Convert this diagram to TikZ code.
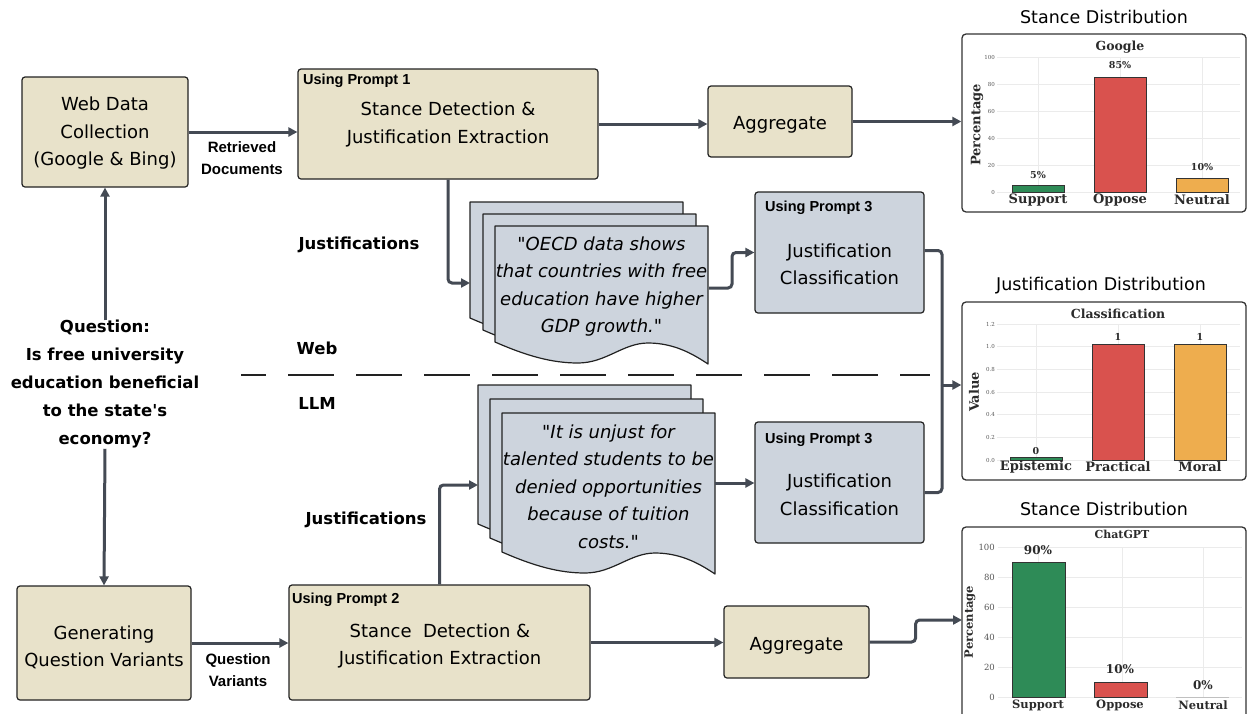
\documentclass[tikz,border=0pt]{standalone}
\usepackage{fontspec}
\setmainfont{DejaVu Sans}[Ligatures=TeXOff]
\newfontfamily\tagfont{Liberation Sans}
\newfontfamily\plotfont{DejaVu Serif}
\usetikzlibrary{arrows.meta,calc}

\definecolor{beige}{HTML}{E8E2CA}
\definecolor{slate}{HTML}{CDD4DD}
\definecolor{wire}{HTML}{444A54}
\definecolor{edge}{HTML}{222222}
\definecolor{frame}{HTML}{333333}
\definecolor{barG}{HTML}{2E8B57}
\definecolor{barR}{HTML}{D9524E}
\definecolor{barO}{HTML}{EEAD4E}
\definecolor{gridc}{HTML}{EBEBEB}
\definecolor{tickc}{HTML}{555555}
\definecolor{valc}{HTML}{2B2B2B}

\tikzset{
  box/.style={draw=edge, line width=1.2pt, rounded corners=3pt, inner sep=0pt},
  beigebox/.style={box, fill=beige},
  slatebox/.style={box, fill=slate},
  main/.style={font=\fontsize{18}{27.5}\selectfont, align=center, inner sep=0pt, yshift=-2.5pt},
  doctext/.style={font=\itshape\fontsize{18}{27.5}\selectfont, align=center, inner sep=0pt, yshift=-2pt},
  tag/.style={font=\tagfont\bfseries\fontsize{14.5}{17}\selectfont, anchor=west, inner sep=0pt},
  flowlabel/.style={font=\tagfont\bfseries\fontsize{15}{22}\selectfont, align=center, inner sep=0pt},
  biglabel/.style={font=\bfseries\fontsize{16.5}{28}\selectfont, align=center, inner sep=0pt, yshift=-1.5pt},
  wireline/.style={draw=wire, line width=3pt, rounded corners=4pt},
  arr/.style={wireline, -{Triangle[length=9pt,width=9pt]}},
  docst/.style={draw=edge, line width=1.2pt, fill=slate, line join=round},
  divider/.style={draw=edge, line width=2.6pt, dash pattern=on 46pt off 22pt, dash phase=21pt},
  chartframe/.style={draw=frame, line width=1.3pt, rounded corners=4pt, fill=white, inner sep=0pt},
  heading/.style={font=\fontsize{17.5}{20}\selectfont, inner sep=0pt},
  gline/.style={draw=gridc, line width=0.6pt},
  bar/.style={draw=frame, line width=0.8pt},
  ticklbl/.style={font=\plotfont\fontsize{5.5}{6}\selectfont, text=tickc, anchor=east, inner sep=0pt},
  ticklblB/.style={font=\plotfont\fontsize{8.5}{9}\selectfont, text=tickc, anchor=east, inner sep=0pt},
  ptitle/.style={font=\plotfont\bfseries\fontsize{12.5}{14}\selectfont, text=valc, inner sep=0pt},
  paxis/.style={font=\plotfont\bfseries\fontsize{13}{14}\selectfont, text=valc, inner sep=0pt, rotate=90},
  pcat/.style={font=\plotfont\bfseries\fontsize{13}{14}\selectfont, text=valc, inner sep=0pt},
  pval/.style={font=\plotfont\bfseries\fontsize{9.5}{11}\selectfont, text=valc, inner sep=0pt},
}

% one page of a document stack: left x, top y, height of the left edge
\newcommand\docpage[3]{%
  \draw[docst] ({#1},{#2+#3})
    .. controls ({#1+32},{#2+#3+14}) and ({#1+57},{#2+#3+21}) .. ({#1+83},{#2+#3+21})
    .. controls ({#1+111},{#2+#3+21}) and ({#1+128},{#2+#3+1}) .. ({#1+153},{#2+#3+1})
    .. controls ({#1+179},{#2+#3+1}) and ({#1+198},{#2+#3+12}) .. ({#1+213},{#2+#3+22})
    -- ({#1+213},{#2}) -- ({#1},{#2}) -- cycle;}

\begin{document}
\begin{tikzpicture}[x=1pt,y=-1pt]
\useasboundingbox[fill=white] (0,0) rectangle (1249,713);

% ---------- left column ----------
\node[beigebox, minimum width=166pt, minimum height=110pt] (web) at (105,132) {};
\node[main] (webtxt) at (105,131) {Web Data\\Collection\\(Google \& Bing)};

\node[biglabel] (q) at (105,383) {Question:\\Is free university\\education beneficial\\to the state's\\economy?};

\node[beigebox, minimum width=174pt, minimum height=114pt] (gen) at (104,643) {};
\node[main] (gentxt) at (104,645) {Generating\\Question Variants};

% ---------- web branch ----------
\node[beigebox, minimum width=300pt, minimum height=110pt] (s1) at (448,124) {};
\node[tag] (s1tag) at (303,81) {Using Prompt 1};
\node[main] (s1txt) at (448,122) {Stance Detection \&\\Justification Extraction};

\node[beigebox, minimum width=144pt, minimum height=71pt] (a1) at (780,121.5) {};
\node[main] (a1txt) at (780,122) {Aggregate};

\node[flowlabel] (retr) at (242,158) {Retrieved\\Documents};
\node[biglabel] (just1) at (359,243) {Justifications};

\docpage{470}{202}{116}
\docpage{483}{214}{116}
\docpage{495}{226}{116}
\node[doctext] (d1txt) at (601.5,284.5) {"OECD data shows\\that countries with free\\education have higher\\GDP growth."};

\node[slatebox, minimum width=169pt, minimum height=121pt] (j1) at (839.5,252.5) {};
\node[tag] (j1tag) at (765,208) {Using Prompt 3};
\node[main] (j1txt) at (839.5,262) {Justification\\Classification};

% ---------- divider ----------
\coordinate (dl) at (241,375);
\coordinate (dr) at (930,375);
\draw[divider] (dl) -- (dr);
\node[biglabel] (webl) at (317,347) {Web};
\node[biglabel] (llml) at (317,402) {LLM};

% ---------- LLM branch ----------
\node[beigebox, minimum width=301pt, minimum height=115pt] (s2) at (439.5,642.5) {};
\node[tag] (s2tag) at (292,600) {Using Prompt 2};
\node[main] (s2txt) at (440,643.5) {Stance\ \ Detection \&\\Justification Extraction};

\node[beigebox, minimum width=145pt, minimum height=72pt] (a2) at (796.5,642) {};
\node[main] (a2txt) at (796.5,643) {Aggregate};

\node[flowlabel] (qv) at (238,670.5) {Question\\Variants};
\node[biglabel] (just2) at (366,518) {Justifications};

\docpage{478}{385}{139}
\docpage{490}{399}{139}
\docpage{502}{413}{139}
\node[doctext] (d2txt) at (608.5,484.5) {"It is unjust for\\talented students to be\\denied opportunities\\because of tuition\\costs."};

\node[slatebox, minimum width=169pt, minimum height=121pt] (j2) at (839.5,482.5) {};
\node[tag] (j2tag) at (765,440) {Using Prompt 3};
\node[main] (j2txt) at (839.5,492.5) {Justification\\Classification};

% ---------- chart frames ----------
\node[chartframe, minimum width=284pt, minimum height=178pt] (ch1) at (1104,123) {};
\node[chartframe, minimum width=284pt, minimum height=178pt] (ch2) at (1104,391) {};
\node[chartframe, minimum width=284pt, minimum height=194pt] (ch3) at (1104,624) {};
\node[heading] (h1) at (1104,17) {Stance Distribution};
\node[heading] (h2) at (1101,286) {Justification Distribution};
\node[heading] (h3) at (1104,509) {Stance Distribution};

% ---------- connectors ----------
\coordinate (d1in) at (470,283);
\coordinate (d1out) at (709,288);
\coordinate (d2in) at (478,485);
\coordinate (d2out) at (715,483);
\coordinate (mrg) at (942,385);
\coordinate (c3in) at (962,620);

\draw[arr] (q.north) -- (web.south);
\draw[arr] (q.south) -- (gen.north);
\draw[arr] (web.east) -- (web.east -| s1.west);
\draw[arr] (s1.east) -- (s1.east -| a1.west);
\draw[arr] (a1.east) -- (a1.east -| ch1.west);
\draw[arr] (s1.south) |- (d1in);
\draw[arr] (d1out) -- ++(23,0) |- (j1.west);
\draw[wireline] ([yshift=2pt]j1.east) -| (mrg);
\draw[wireline] ([yshift=-10pt]j2.east) -| (mrg);
\draw[arr] (mrg) -- (mrg -| ch2.west);
\draw[arr] (gen.east) -- (gen.east -| s2.west);
\draw[arr] (s2.east) -- (s2.east -| a2.west);
\draw[arr] (a2.east) -- ++(46,0) |- (c3in);
\draw[arr] (s2.north) |- (d2in);
\draw[arr] (d2out) -- (d2out -| j2.west);

% ---------- chart 1: Google stance ----------
\foreach \v [count=\k] in {0,20,40,60,80,100} {
  \draw[gline] (997,{192-1.35*\v}) -- (1240,{192-1.35*\v});
  \node[ticklbl] (g1t\k) at (995,{192-1.35*\v}) {\v};
}
\foreach \cx in {1038,1120,1202} \draw[gline] (\cx,57) -- (\cx,192);
\draw[bar, fill=barG] (1012,192) rectangle (1064,{192-1.35*5});
\draw[bar, fill=barR] (1094,192) rectangle (1146,{192-1.35*85});
\draw[bar, fill=barO] (1176,192) rectangle (1228,{192-1.35*10});
\node[pval] (g1v1) at (1038,175) {5\%};
\node[pval] (g1v2) at (1120,65) {85\%};
\node[pval] (g1v3) at (1202,167) {10\%};
\node[pcat] (g1c1) at (1038,200) {Support};
\node[pcat] (g1c2) at (1120,200) {Oppose};
\node[pcat] (g1c3) at (1202,200) {Neutral};
\node[ptitle] (g1title) at (1120,47) {Google};
\node[paxis] (g1axis) at (977,125) {Percentage};

% ---------- chart 2: justification classes ----------
\foreach \v/\lab [count=\k] in {0/0.0,0.2/0.2,0.4/0.4,0.6/0.6,0.8/0.8,1/1.0,1.2/1.2} {
  \draw[gline] (997,{460-113.3*\v}) -- (1240,{460-113.3*\v});
  \node[ticklbl] (g2t\k) at (995,{460-113.3*\v}) {\lab};
}
\foreach \cx in {1036,1118,1200} \draw[gline] (\cx,324) -- (\cx,460);
\draw[bar, fill=barG] (1010,460) rectangle (1062,457.7);
\draw[bar, fill=barR] (1092,460) rectangle (1144,344.4);
\draw[bar, fill=barO] (1174,460) rectangle (1226,344.4);
\node[pval] (g2v1) at (1036,451) {0};
\node[pval] (g2v2) at (1118,337) {1};
\node[pval] (g2v3) at (1200,337) {1};
\node[pcat] (g2c1) at (1036,467) {Epistemic};
\node[pcat] (g2c2) at (1118,467) {Practical};
\node[pcat] (g2c3) at (1200,467) {Moral};
\node[ptitle] (g2title) at (1118,314) {Classification};
\node[paxis] (g2axis) at (974,392) {Value};

% ---------- chart 3: ChatGPT stance ----------
\foreach \v [count=\k] in {0,20,40,60,80,100} {
  \draw[gline] (998,{697-1.5*\v}) -- (1242,{697-1.5*\v});
  \node[ticklblB] (g3t\k) at (995,{697-1.5*\v}) {\v};
}
\foreach \cx in {1038,1122,1203} \draw[gline] (\cx,547) -- (\cx,697);
\draw[bar, fill=barG] (1012,697) rectangle (1065,{697-1.5*90});
\draw[bar, fill=barR] (1094,697) rectangle (1147,{697-1.5*10});
\draw[draw=gridc!60!gray, line width=1pt] (1176,697) -- (1229,697);
\node[pval, font=\plotfont\bfseries\fontsize{12}{13}\selectfont] (g3v1) at (1038,550) {90\%};
\node[pval, font=\plotfont\bfseries\fontsize{12}{13}\selectfont] (g3v2) at (1120,669) {10\%};
\node[pval, font=\plotfont\bfseries\fontsize{12}{13}\selectfont] (g3v3) at (1203,685) {0\%};
\node[pcat, font=\plotfont\bfseries\fontsize{11.5}{12}\selectfont] (g3c1) at (1038,705) {Support};
\node[pcat, font=\plotfont\bfseries\fontsize{11.5}{12}\selectfont] (g3c2) at (1120,705) {Oppose};
\node[pcat, font=\plotfont\bfseries\fontsize{11.5}{12}\selectfont] (g3c3) at (1203,705) {Neutral};
\node[ptitle, font=\plotfont\bfseries\fontsize{11}{12}\selectfont] (g3title) at (1122,534) {ChatGPT};
\node[paxis, font=\plotfont\bfseries\fontsize{11.5}{12}\selectfont] (g3axis) at (970,622) {Percentage};
\end{tikzpicture}
\end{document}
